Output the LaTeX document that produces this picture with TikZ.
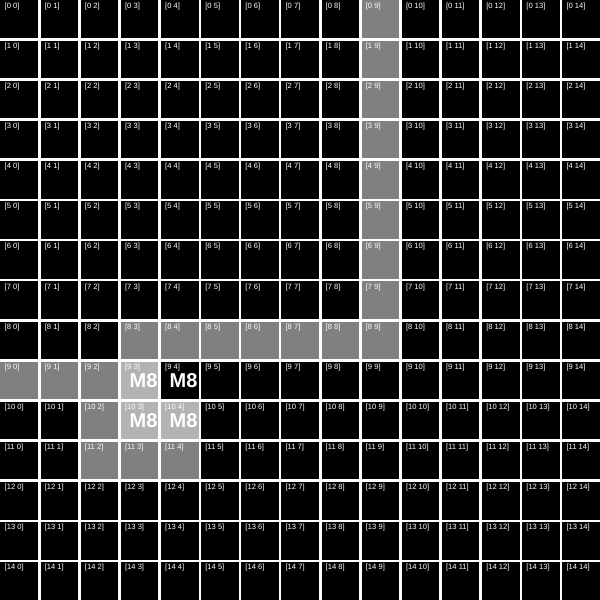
\documentclass[tikz,border=0pt]{standalone}
\usepackage{fontspec}
\setmainfont{Liberation Sans}
\definecolor{pathgray}{HTML}{808080}
\definecolor{lightcell}{HTML}{B3B3B3}
\begin{document}
\begin{tikzpicture}[x=1pt,y=-1pt,
  lbl/.style={anchor=north west, inner sep=0pt, text=white, font=\fontsize{7.6}{8}\selectfont},
  big/.style={anchor=west, inner sep=0pt, text=white, font=\fontsize{20}{24}\selectfont\bfseries},
  gridline/.style={white, line width=2.6pt}]
\def\P{40.13}
\useasboundingbox (0,0) rectangle (600,600);
\fill[black] (0,0) rectangle (600,600);
% path cells
\foreach \ri/\ci/\cc in {0/9/pathgray,1/9/pathgray,2/9/pathgray,3/9/pathgray,4/9/pathgray,5/9/pathgray,6/9/pathgray,7/9/pathgray,8/9/pathgray,
  8/3/pathgray,8/4/pathgray,8/5/pathgray,8/6/pathgray,8/7/pathgray,8/8/pathgray,
  9/0/pathgray,9/1/pathgray,9/2/pathgray,10/2/pathgray,11/2/pathgray,11/3/pathgray,11/4/pathgray,
  9/3/lightcell,10/3/lightcell,10/4/lightcell}{
  \fill[\cc] ({\P*\ci-0.83},{\P*\ri-0.83}) rectangle ({\P*(\ci+1)-0.83},{\P*(\ri+1)-0.83});
}
% M8 labels, clipped to their cells
\foreach \ri/\ci in {9/3,9/4,10/3,10/4}{
  \begin{scope}
    \clip ({\P*\ci+0.47},{\P*\ri+0.47}) rectangle ({\P*(\ci+1)-2.13},{\P*(\ri+1)-2.13});
    \node[big] (m\ri-\ci) at ({\P*\ci+9},{\P*\ri+19}) {M8};
  \end{scope}
}
% grid lines
\foreach \k in {1,...,14}{
  \draw[gridline] ({\P*\k-0.83},0) -- ({\P*\k-0.83},600);
  \draw[gridline] (0,{\P*\k-0.83}) -- (600,{\P*\k-0.83});
}
% cell labels
\foreach \ri in {0,...,14}{
  \foreach \ci in {0,...,14}{
    \node[lbl] (l\ri-\ci) at ({\P*\ci+4.5},{\P*\ri+2.4}) {[\ri\space\ci]};
  }
}
\end{tikzpicture}
\end{document}
